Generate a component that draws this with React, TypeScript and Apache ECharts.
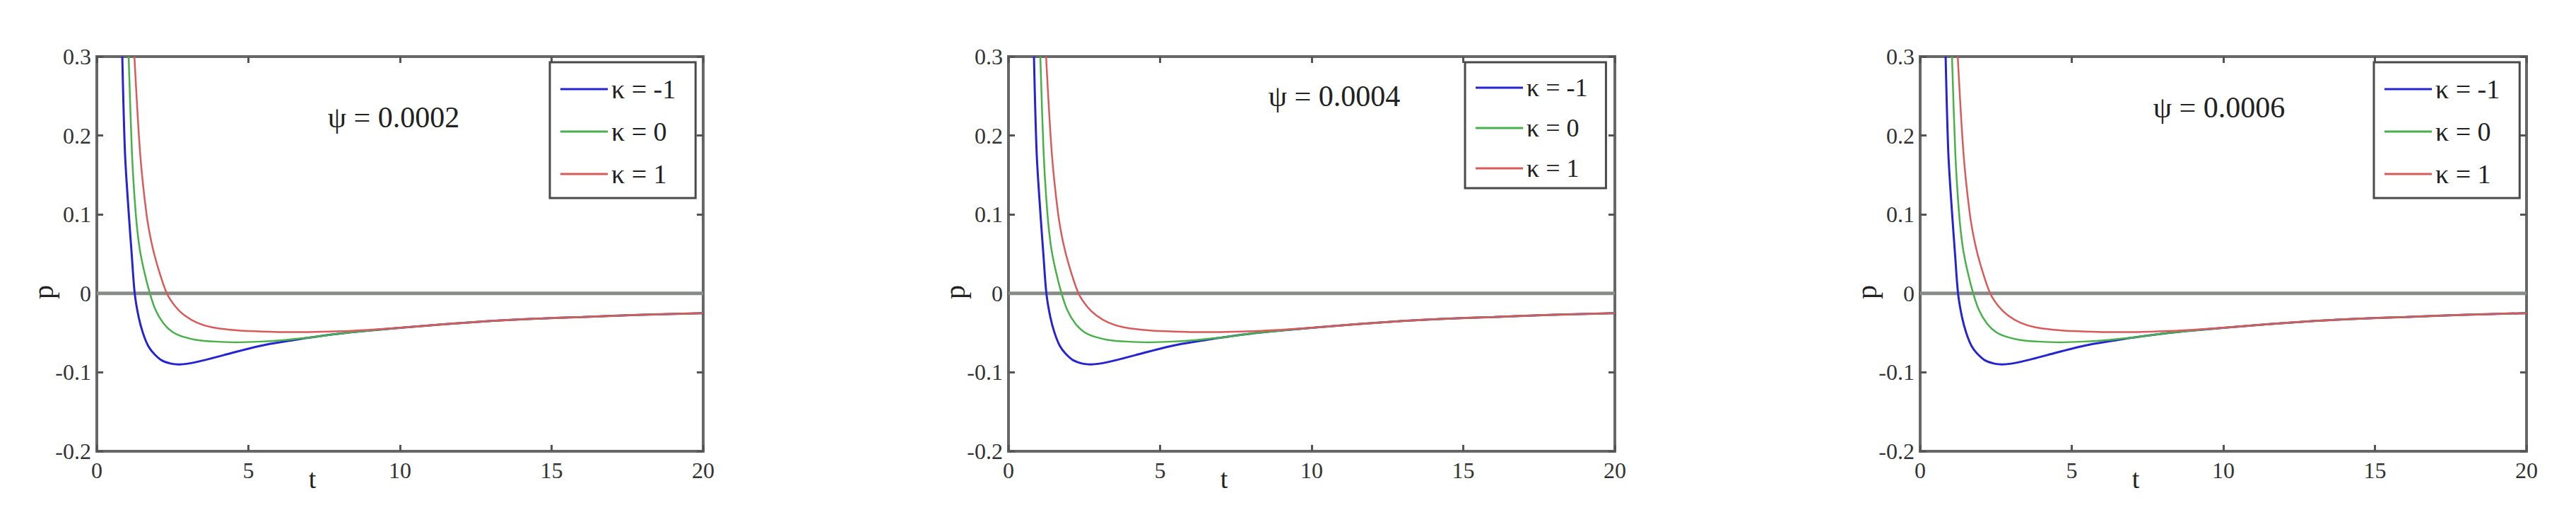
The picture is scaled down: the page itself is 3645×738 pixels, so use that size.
import React, { useEffect, useRef } from "react";
import * as echarts from "echarts";

// ---- data ----
const kappaNames = ["κ = -1", "κ = 0", "κ = 1"];
const psiLabels = ["ψ = 0.0002", "ψ = 0.0004", "ψ = 0.0006"];
const xAxisName = "t";
const yAxisName = "p";
const tRange = [0, 20];
const tStep = 5;
const pRange = [-0.2, 0.3];
const pStep = 0.1;

// κ = -1 (blue)
const curveKappaMinus1: [number, number][] = [
  [0.84, 0.3], [0.93, 0.177], [1.05, 0.103], [1.15, 0.05], [1.25, 0.0],
  [1.38, -0.03], [1.52, -0.05], [1.7, -0.067], [1.9, -0.077], [2.15, -0.085],
  [2.45, -0.089], [2.7, -0.09], [3.0, -0.089], [3.5, -0.085], [4.2, -0.078],
  [5.0, -0.07], [5.7, -0.064], [6.5, -0.059], [7.2, -0.055], [8.0, -0.051],
  [9.0, -0.047], [10.2, -0.043], [11.5, -0.039], [13.0, -0.035], [14.5, -0.032],
  [16.0, -0.03], [18.0, -0.027], [20.0, -0.025],
];
// κ = 0 (green)
const curveKappa0: [number, number][] = [
  [1.05, 0.3], [1.16, 0.177], [1.28, 0.103], [1.4, 0.06], [1.55, 0.03],
  [1.75, 0.0], [1.95, -0.022], [2.2, -0.038], [2.5, -0.049], [2.85, -0.055],
  [3.3, -0.059], [3.9, -0.061], [4.6, -0.062], [5.4, -0.061], [6.2, -0.059],
  [7.2, -0.055], [8.0, -0.051], [9.0, -0.047], [10.2, -0.043], [11.5, -0.039],
  [13.0, -0.035], [14.5, -0.032], [16.0, -0.03], [18.0, -0.027], [20.0, -0.025],
];
// κ = 1 (red)
const curveKappa1: [number, number][] = [
  [1.24, 0.3], [1.43, 0.177], [1.63, 0.103], [1.8, 0.065], [2.0, 0.035],
  [2.31, 0.0], [2.6, -0.017], [2.9, -0.028], [3.3, -0.037], [3.8, -0.043],
  [4.4, -0.046], [5.2, -0.048], [6.0, -0.049], [7.0, -0.049], [8.0, -0.048],
  [9.0, -0.046], [10.2, -0.043], [11.5, -0.039], [13.0, -0.035], [14.5, -0.032],
  [16.0, -0.03], [18.0, -0.027], [20.0, -0.025],
];
const zeroLine: [number, number][] = [[0, 0], [20, 0]];

const curves = [curveKappaMinus1, curveKappa0, curveKappa1];

// ---- styling / layout ----
const FONT = '"Liberation Serif", "DejaVu Serif", serif';
const curveColors = ["#2424d0", "#48b048", "#d85a5a"];
const curveWidths = [3, 2.5, 2.5];
const panelLefts = [137, 1427, 2717];
const PLOT_TOP = 80;
const PLOT_W = 858;
const PLOT_H = 558;
const annotPos = [
  { x: 557, y: 166 },
  { x: 1888, y: 136 },
  { x: 3140, y: 152 },
];
const legendBoxes = [
  { left: 778, top: 88, pad: [18, 28, 14, 15], lh: 40, gap: 20, fs: 38 },
  { left: 2073, top: 88, pad: [17, 26, 9, 15], lh: 38, gap: 19, fs: 36 },
  { left: 3359, top: 88, pad: [18, 28, 14, 15], lh: 40, gap: 20, fs: 38 },
];
const xLabelOffset = 305;

function fmtP(v: number) {
  const r = Math.round(v * 10) / 10;
  return r === 0 ? "0" : String(r);
}

export default function App() {
  const ref = useRef<HTMLDivElement>(null);
  useEffect(() => {
    if (!ref.current) return;
    const chart = echarts.init(ref.current, null, { renderer: "svg" });

    const grids: any[] = [];
    const xAxes: any[] = [];
    const yAxes: any[] = [];
    const series: any[] = [];
    const legends: any[] = [];
    const graphics: any[] = [];

    const tick = { inside: true, length: 9, lineStyle: { color: "#555", width: 3 } };
    const noLine = { show: false, onZero: false };

    panelLefts.forEach((left, i) => {
      grids.push({
        left,
        top: PLOT_TOP,
        width: PLOT_W,
        height: PLOT_H,
        show: true,
        borderColor: "#676767",
        borderWidth: 4,
        backgroundColor: "transparent",
      });
      xAxes.push({
        type: "value", gridIndex: i, position: "bottom",
        min: tRange[0], max: tRange[1], interval: tStep,
        axisLine: noLine, axisTick: tick, splitLine: { show: false },
        axisLabel: {
          margin: 11, fontSize: 32, fontFamily: FONT, color: "#333",
          showMinLabel: true, showMaxLabel: true,
          formatter: (v: number) => String(v),
        },
      });
      yAxes.push({
        type: "value", gridIndex: i, position: "left",
        min: pRange[0], max: pRange[1], interval: pStep,
        axisLine: noLine, axisTick: tick, splitLine: { show: false },
        axisLabel: {
          margin: 8, fontSize: 32, fontFamily: FONT, color: "#333",
          showMinLabel: true, showMaxLabel: true,
          formatter: (v: number) => fmtP(v),
        },
      });
    });
    panelLefts.forEach((_, i) => {
      xAxes.push({
        type: "value", gridIndex: i, position: "top",
        min: tRange[0], max: tRange[1], interval: tStep,
        axisLine: noLine, axisTick: tick, axisLabel: { show: false },
        splitLine: { show: false },
      });
      yAxes.push({
        type: "value", gridIndex: i, position: "right",
        min: pRange[0], max: pRange[1], interval: pStep,
        axisLine: noLine, axisTick: tick, axisLabel: { show: false },
        splitLine: { show: false },
      });
    });

    panelLefts.forEach((left, i) => {
      series.push({
        name: "zero" + i,
        type: "line",
        xAxisIndex: i,
        yAxisIndex: i,
        data: zeroLine,
        symbol: "none",
        silent: true,
        z: 2,
        lineStyle: { color: "#878c89", width: 5 },
      });
      curves.forEach((c, k) => {
        series.push({
          name: kappaNames[k],
          type: "line",
          xAxisIndex: i,
          yAxisIndex: i,
          data: c,
          symbol: "none",
          smooth: 0.3,
          clip: true,
          z: 3 + k,
          color: curveColors[k],
          lineStyle: { color: curveColors[k], width: curveWidths[k] },
        });
      });
      const lb = legendBoxes[i];
      legends.push({
        data: kappaNames.map((n) => ({ name: n, icon: "rect" })),
        orient: "vertical",
        left: lb.left,
        top: lb.top,
        itemWidth: 67,
        itemHeight: 3,
        itemGap: lb.gap,
        padding: lb.pad,
        borderColor: "#4a4a4a",
        borderWidth: 3,
        backgroundColor: "#fff",
        selectedMode: false,
        textStyle: { fontFamily: FONT, fontSize: lb.fs, color: "#222", lineHeight: lb.lh },
      });
      graphics.push({
        type: "text",
        x: annotPos[i].x,
        y: annotPos[i].y,
        style: {
          text: psiLabels[i],
          fontFamily: FONT,
          fontSize: 42,
          fill: "#222",
          align: "center",
          verticalAlign: "middle",
        },
      });
      graphics.push({
        type: "text",
        x: left - 76,
        y: 413,
        rotation: Math.PI / 2,
        style: {
          text: yAxisName,
          fontFamily: FONT,
          fontSize: 40,
          fill: "#222",
          align: "center",
          verticalAlign: "middle",
        },
      });
      graphics.push({
        type: "text",
        x: left + xLabelOffset,
        y: 677,
        style: {
          text: xAxisName,
          fontFamily: FONT,
          fontSize: 38,
          fill: "#222",
          align: "center",
          verticalAlign: "middle",
        },
      });
    });

    chart.setOption({
      animation: false,
      backgroundColor: "#ffffff",
      grid: grids,
      xAxis: xAxes,
      yAxis: yAxes,
      legend: legends,
      series,
      graphic: graphics,
    });
    return () => chart.dispose();
  }, []);

  return (
    <div
      ref={ref}
      style={{ position: "fixed", left: 0, top: 0, width: 3645, height: 738, background: "#fff" }}
    />
  );
}
